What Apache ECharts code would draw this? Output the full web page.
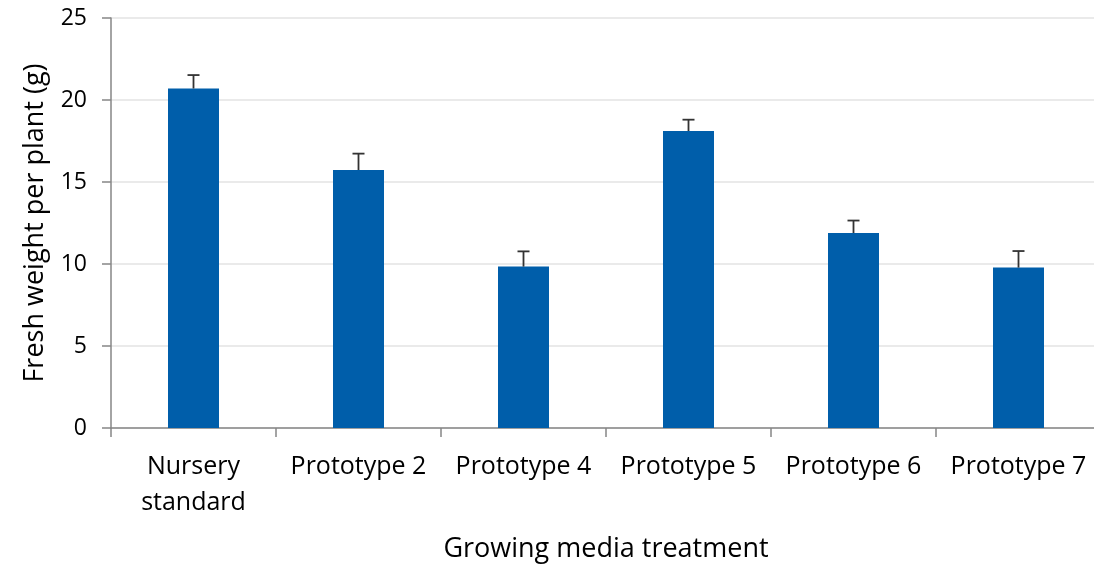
<!DOCTYPE html>
<html>
<head>
<meta charset="utf-8">
<script src="https://cdn.jsdelivr.net/npm/echarts@6/dist/echarts.min.js"></script>
<style>
  html, body { margin: 0; padding: 0; background: #fff; }
  #chart { width: 1094px; height: 568px; }
</style>
</head>
<body>
<div id="chart"></div>
<script>
// Fresh weight by growing media treatment (mean with upper error bar)
const categories = ['Nursery\nstandard', 'Prototype 2', 'Prototype 4', 'Prototype 5', 'Prototype 6', 'Prototype 7'];
const meanWeight = [20.7, 15.73, 9.84, 18.11, 11.89, 9.78];
const errorTop = [21.52, 16.73, 10.77, 18.8, 12.65, 10.79];
const yTicks = [0, 5, 10, 15, 20, 25];

const FONT = "'Open Sans', 'Liberation Sans', sans-serif";
const chart = echarts.init(document.getElementById('chart'));

chart.setOption({
  animation: false,
  // the last category runs a little past the right edge of the canvas
  grid: { left: 111, top: 18, width: 990, bottom: 140, containLabel: false, outerBoundsMode: 'none' },
  xAxis: {
    type: 'category',
    data: categories,
    name: 'Growing media treatment',
    nameLocation: 'middle',
    nameGap: 108,
    nameTextStyle: { fontFamily: FONT, fontSize: 27, color: '#000' },
    axisLine: { lineStyle: { color: '#868686', width: 1.5 } },
    axisTick: { show: true, length: 9, alignWithLabel: false, lineStyle: { color: '#868686', width: 1.5 } },
    axisLabel: { fontFamily: FONT, fontSize: 25, color: '#000', margin: 21, lineHeight: 36, interval: 0 }
  },
  yAxis: {
    type: 'value',
    min: 0, max: 25, interval: 5,
    name: 'Fresh weight per plant (g)',
    nameLocation: 'middle',
    nameGap: 62,
    nameTextStyle: { fontFamily: FONT, fontSize: 27, color: '#000' },
    axisLine: { show: true, lineStyle: { color: '#868686', width: 1.5 } },
    axisTick: { show: true, length: 9, lineStyle: { color: '#868686', width: 1.5 } },
    axisLabel: {
      fontFamily: FONT, fontSize: 23, color: '#000', margin: 24,
      formatter: v => yTicks.includes(v) ? String(v) : ''
    },
    splitLine: { show: true, lineStyle: { color: '#e3e3e3', width: 1.5 } }
  },
  series: [
    {
      type: 'bar',
      data: meanWeight,
      barWidth: 51,
      itemStyle: { color: '#005EAA' },
      z: 2
    },
    {
      type: 'custom',
      z: 3,
      data: meanWeight.map((v, i) => [i, v, errorTop[i]]),
      renderItem: (params, api) => {
        const base = api.coord([api.value(0), api.value(1)]);
        const top = api.coord([api.value(0), api.value(2)]);
        const half = 6;
        const style = { stroke: '#333', lineWidth: 1.8 };
        return {
          type: 'group',
          children: [
            { type: 'line', shape: { x1: base[0], y1: base[1], x2: top[0], y2: top[1] }, style },
            { type: 'line', shape: { x1: top[0] - half, y1: top[1], x2: top[0] + half, y2: top[1] }, style }
          ]
        };
      }
    }
  ]
});
</script>
</body>
</html>
